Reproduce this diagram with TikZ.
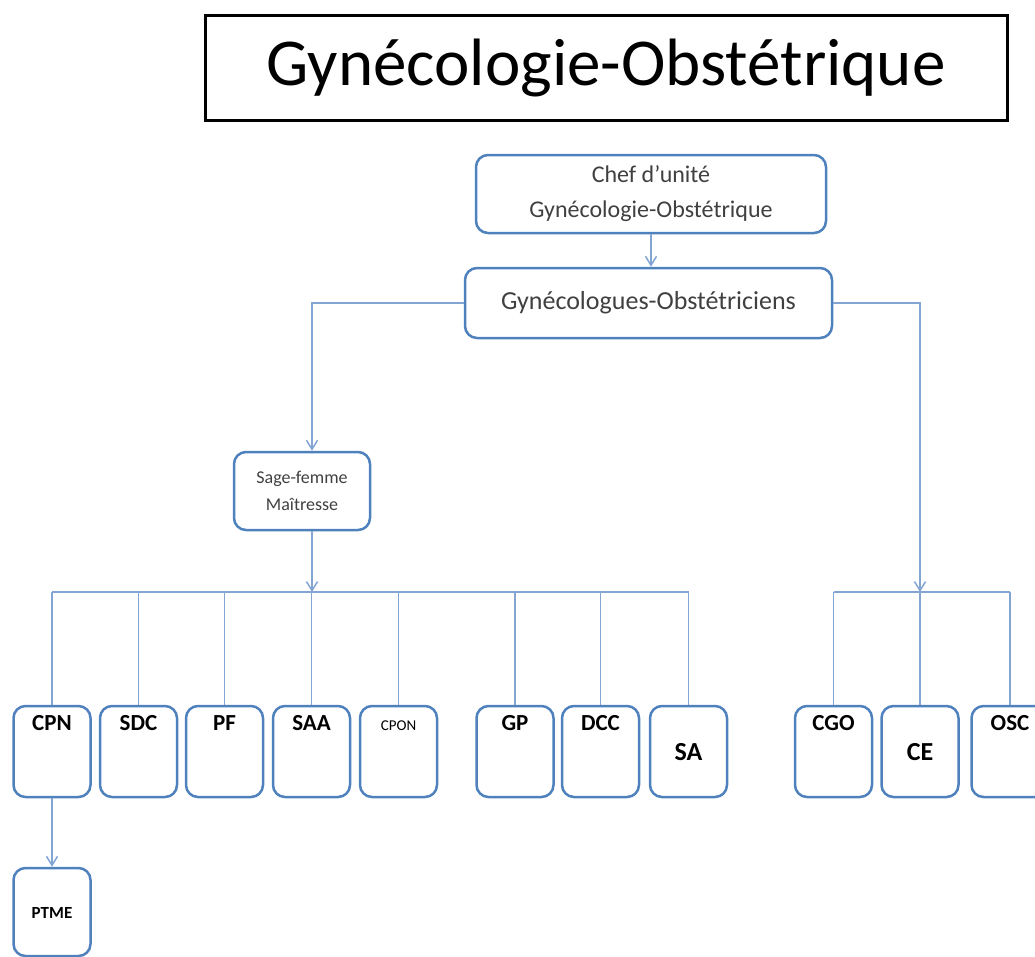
\documentclass[tikz,border=0pt]{standalone}
\usepackage{fontspec}
\setmainfont{Carlito}
\usetikzlibrary{positioning, arrows.meta}
\definecolor{boxblue}{RGB}{79,129,189}
\definecolor{lineblue}{RGB}{130,165,212}
\definecolor{txtgray}{RGB}{64,64,64}

\begin{document}
\begin{tikzpicture}[x=1pt, y=-1pt,
        titlebox/.style={draw=black, line width=3pt, minimum width=802pt, minimum height=105pt, font=\fontsize{67}{70}\selectfont},
        headbox/.style={draw=boxblue, line width=2.5pt, rounded corners=12pt, align=center, text=txtgray},
        unit/.style={draw=boxblue, line width=2.5pt, rounded corners=12pt, minimum width=77pt, minimum height=91pt, inner ysep=2pt, font=\bfseries\fontsize{23}{26}\selectfont, text height=16pt, text depth=58pt},
        unitlow/.style={unit, font=\bfseries\fontsize{26}{28}\selectfont, text height=18pt, text depth=0pt},
        link/.style={draw=lineblue, line width=1.5pt},
        arrow/.style={link, -{Straight Barb[length=9pt, width=11pt]}}
    ]
    \clip (0,0) rectangle (1035,956);

    % Titre
    \node[titlebox] (title) at (606, 67.5) {Gynécologie-Obstétrique};

    % Direction
    \node[headbox, minimum width=350pt, minimum height=78pt, font=\fontsize{24}{35}\selectfont] (chef) at (651, 194) {Chef d’unité\\Gynécologie-Obstétrique};
    \node[headbox, minimum width=367pt, minimum height=70pt, font=\fontsize{26}{30}\selectfont] (gyno) at (648.5, 303) {Gynécologues-Obstétriciens};
    \node[headbox, minimum width=136pt, minimum height=78pt, font=\fontsize{18}{27}\selectfont] (sage) at (302, 491) {Sage-femme\\Maîtresse};

    % Unités (gauche)
    \node[unit] (cpn) at (52, 751.5) {CPN};
    \node[unit] (sdc) at (138.5, 751.5) {SDC};
    \node[unit] (pf) at (224.5, 751.5) {PF};
    \node[unit] (saa) at (311.5, 751.5) {SAA};
    \node[unit, font=\fontsize{15}{17}\selectfont] (cpon) at (398.5, 751.5) {CPON};
    \node[unit] (gp) at (515, 751.5) {GP};
    \node[unit] (dcc) at (600.5, 751.5) {DCC};
    \node[unitlow] (sa) at (688.5, 751.5) {SA};

    % Unités (droite)
    \node[unit] (cgo) at (833.5, 751.5) {CGO};
    \node[unitlow] (ce) at (920, 751.5) {CE};
    \node[unit] (osc) at (1010, 751.5) {OSC};

    % PTME sous CPN
    \node[unitlow, minimum height=88pt, font=\bfseries\fontsize{17}{19}\selectfont, text height=12pt] (ptme) at (52, 912) {PTME};

    % Barres horizontales
    \coordinate (lbar) at (312, 592);
    \coordinate (rbar) at (ce.north |- lbar);

    % Liaisons
    \draw[arrow] (chef.south) -- (chef.south |- gyno.north);
    \draw[arrow] (gyno.west) -| ([xshift=10pt]sage.north);
    \draw[arrow] (gyno.east) -| (rbar);
    \draw[arrow] ([xshift=10pt]sage.south) -- (lbar);

    \draw[link] (cpn.north |- lbar) -- (sa.north |- lbar);
    \foreach \n in {cpn, sdc, pf, saa, cpon, gp, dcc, sa}
        \draw[link] (\n.north) -- (\n.north |- lbar);

    \draw[link] (cgo.north |- lbar) -- (osc.north |- lbar);
    \foreach \n in {cgo, ce, osc}
        \draw[link] (\n.north) -- (\n.north |- lbar);

    \draw[arrow] (cpn.south) -- (ptme.north);

\end{tikzpicture}
\end{document}
